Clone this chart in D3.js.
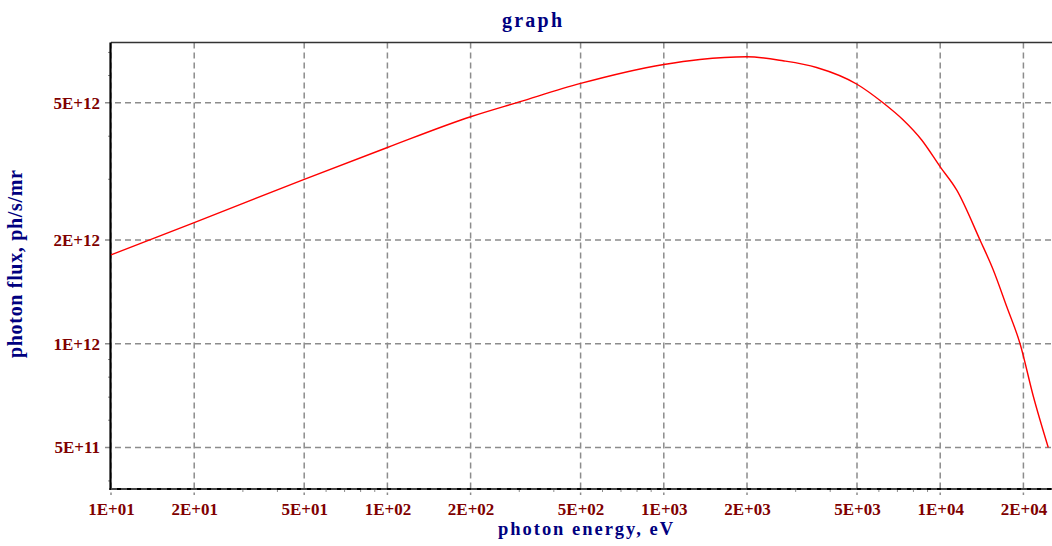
<!DOCTYPE html>
<html>
<head>
<meta charset="utf-8">
<script src="https://cdn.jsdelivr.net/npm/d3@7"></script>
<style>
  html, body { margin: 0; padding: 0; background: #ffffff; }
  svg { display: block; }
</style>
</head>
<body>
<svg id="chart" width="1052" height="546"></svg>
<script>
// ---- data ----
const energy = [10, 20, 50, 100, 200, 300, 500, 1000, 1350, 2000, 2700, 3570, 5000, 6210, 7350, 8570, 10000, 11480, 13930, 15560, 17400, 19450, 21730, 24600];
const flux = [1.81e12, 2.245e12, 3.0e12, 3.71e12, 4.555e12, 5.03e12, 5.69e12, 6.46e12, 6.68e12, 6.80e12, 6.62e12, 6.33e12, 5.66e12, 5.0e12, 4.456e12, 3.90e12, 3.26e12, 2.79e12, 2.0e12, 1.637e12, 1.282e12, 1.0e12, 7.03e11, 5.0e11];
const xTickValues = [10, 20, 50, 100, 200, 500, 1000, 2000, 5000, 10000, 20000];
const xTickLabels = ["1E+01", "2E+01", "5E+01", "1E+02", "2E+02", "5E+02", "1E+03", "2E+03", "5E+03", "1E+04", "2E+04"];
const yTickValues = [5e11, 1e12, 2e12, 5e12];
const yTickLabels = ["5E+11", "1E+12", "2E+12", "5E+12"];
const titleText = "graph";
const xTitle = "photon energy, eV";
const yTitle = "photon flux, ph/s/mr";

(function () {
// ---- layout ----
const svg = d3.select("#chart");
const pLeft = 111, pRight = 1050.2, pTop = 42.5, pBottom = 489;

const x = d3.scaleLog().domain([10, 25000]).range([pLeft, pRight]);
const y = d3.scaleLog().domain([3.79e11, 7.48e12]).range([pBottom, pTop]);

const serif = "'Liberation Serif', 'Times New Roman', serif";
const gridColor = "#8c8c8c";

// minor ticks
const xMinor = [];
for (let d = 10; d < 25000; d *= 10) for (let m = 1; m < 10; m++) { const v = d * m; if (v <= 25000 && !xTickValues.includes(v)) xMinor.push(v); }
const yMinor = [];
for (let d = 1e11; d < 1e13; d *= 10) for (let m = 1; m < 10; m++) { const v = d * m; if (v >= 3.79e11 && v <= 7.48e12 && !yTickValues.some(t => Math.abs(t - v) < 1)) yMinor.push(v); }

svg.append("g").selectAll("line").data(xMinor).join("line")
  .attr("x1", d => x(d)).attr("x2", d => x(d))
  .attr("y1", pBottom).attr("y2", pBottom + 3)
  .attr("stroke", gridColor).attr("stroke-width", 1);
svg.append("g").selectAll("line").data(yMinor).join("line")
  .attr("x1", pLeft - 3).attr("x2", pLeft)
  .attr("y1", d => y(d)).attr("y2", d => y(d))
  .attr("stroke", gridColor).attr("stroke-width", 1);

// grid
svg.append("g").selectAll("line").data(xTickValues).join("line")
  .attr("x1", d => x(d)).attr("x2", d => x(d))
  .attr("y1", pTop).attr("y2", pBottom + 6)
  .attr("stroke", gridColor).attr("stroke-width", 1.5)
  .attr("stroke-dasharray", "6,4");
svg.append("g").selectAll("line").data(yTickValues).join("line")
  .attr("x1", pLeft - 6).attr("x2", 1052)
  .attr("y1", d => y(d)).attr("y2", d => y(d))
  .attr("stroke", gridColor).attr("stroke-width", 1.5)
  .attr("stroke-dasharray", "6,4");

// frame
svg.append("line").attr("x1", pLeft).attr("x2", 1052).attr("y1", pTop).attr("y2", pTop)
  .attr("stroke", "#333").attr("stroke-width", 1.5);
svg.append("line").attr("x1", pLeft - 0.5).attr("x2", pLeft - 0.5).attr("y1", pTop).attr("y2", pBottom + 1)
  .attr("stroke", "#000").attr("stroke-width", 2.2);
svg.append("line").attr("x1", pLeft - 1.5).attr("x2", 1052).attr("y1", pBottom).attr("y2", pBottom)
  .attr("stroke", "#000").attr("stroke-width", 2.2);
svg.append("line").attr("x1", pLeft).attr("x2", 1052).attr("y1", pBottom).attr("y2", pBottom)
  .attr("stroke", gridColor).attr("stroke-width", 1).attr("stroke-dasharray", "6,4");

// axes (labels)
const xAxis = d3.axisBottom(x).tickValues(xTickValues)
  .tickFormat((d, i) => xTickLabels[i]).tickSize(0).tickPadding(13.5);
const gx = svg.append("g").attr("transform", `translate(0,${pBottom})`).call(xAxis);
gx.select(".domain").remove();
gx.selectAll("text").attr("font-family", serif).attr("font-weight", "bold")
  .attr("font-size", 17).attr("fill", "#800000");

const yAxis = d3.axisLeft(y).tickValues(yTickValues)
  .tickFormat((d, i) => yTickLabels[i]).tickSize(0).tickPadding(11);
const gy = svg.append("g").attr("transform", `translate(${pLeft},0)`).call(yAxis);
gy.select(".domain").remove();
gy.selectAll("text").attr("font-family", serif).attr("font-weight", "bold")
  .attr("font-size", 17).attr("fill", "#800000");

// curve
const line = d3.line()
  .x((d, i) => x(energy[i]))
  .y((d, i) => y(flux[i]))
  .curve(d3.curveMonotoneX);
svg.append("path").datum(flux).attr("d", line)
  .attr("fill", "none").attr("stroke", "#ff0000").attr("stroke-width", 1.4);

// titles
svg.append("text").attr("x", 532).attr("y", 27).attr("text-anchor", "middle")
  .attr("font-family", serif).attr("font-weight", "bold").attr("font-size", 20)
  .attr("fill", "#000080").attr("textLength", 60).attr("lengthAdjust", "spacing")
  .text(titleText);
svg.append("text").attr("x", 585.5).attr("y", 535).attr("text-anchor", "middle")
  .attr("font-family", serif).attr("font-weight", "bold").attr("font-size", 18.5)
  .attr("fill", "#000080").attr("textLength", 175).attr("lengthAdjust", "spacing")
  .text(xTitle);
svg.append("text").attr("transform", "translate(22,264) rotate(-90)").attr("text-anchor", "middle")
  .attr("font-family", serif).attr("font-weight", "bold").attr("font-size", 20)
  .attr("fill", "#000080").attr("textLength", 188).attr("lengthAdjust", "spacing")
  .text(yTitle);
})();
</script>
</body>
</html>
